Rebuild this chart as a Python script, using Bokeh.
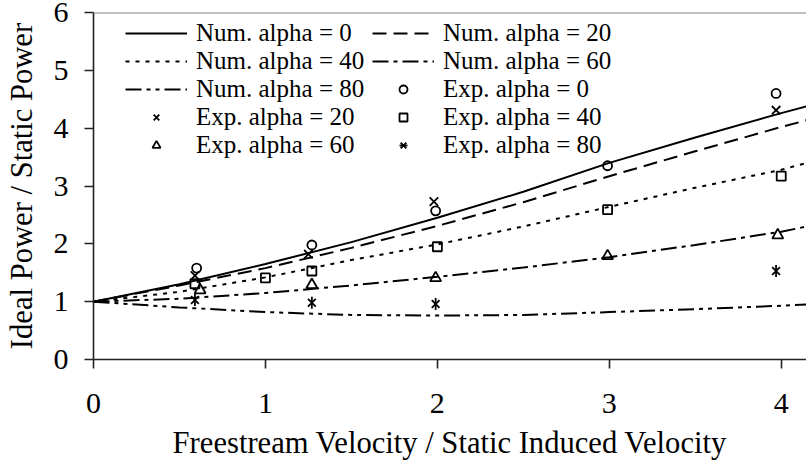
import math
from bokeh.plotting import figure
from bokeh.models import Range1d, Legend, LegendItem, Span, FixedTicker
from bokeh.embed import file_html
from bokeh.resources import INLINE

# ---- data ----
num_x = [0.0, 0.5, 1.0, 1.5, 2.0, 2.5, 3.0, 3.5, 4.0, 4.15]
num_a0 = [1.00, 1.30, 1.65, 2.03, 2.45, 2.90, 3.40, 3.84, 4.26, 4.38]
num_a20 = [1.00, 1.28, 1.58, 1.93, 2.31, 2.72, 3.17, 3.60, 4.02, 4.14]
num_a40 = [1.00, 1.17, 1.42, 1.72, 1.99, 2.30, 2.64, 2.97, 3.28, 3.40]
num_a60 = [1.00, 1.05, 1.15, 1.28, 1.43, 1.59, 1.77, 1.98, 2.21, 2.30]
num_a80 = [1.00, 0.90, 0.82, 0.77, 0.76, 0.77, 0.82, 0.87, 0.93, 0.95]

exp0_x = [0.60, 1.27, 1.99, 2.99, 3.97]
exp0_y = [1.58, 1.98, 2.57, 3.35, 4.60]
exp20_x = [0.59, 1.25, 1.98, 3.97]
exp20_y = [1.45, 1.82, 2.73, 4.31]
exp40_x = [0.59, 1.00, 1.27, 2.00, 2.99, 4.00]
exp40_y = [1.31, 1.41, 1.53, 1.95, 2.59, 3.17]
exp60_x = [0.62, 1.27, 1.99, 2.99, 3.98]
exp60_y = [1.20, 1.29, 1.41, 1.79, 2.15]
exp80_x = [0.59, 1.27, 1.99, 3.97]
exp80_y = [1.03, 0.98, 0.96, 1.53]

x_ticks = [0, 1, 2, 3, 4]
y_ticks = [0, 1, 2, 3, 4, 5, 6]
x_title = "Freestream Velocity / Static Induced Velocity"
y_title = "Ideal Power / Static Power"

FONT = "Liberation Serif"

p = figure(width=806, height=463, output_backend="svg", toolbar_location=None,
           x_range=Range1d(0, 4.147), y_range=Range1d(0, 6),
           min_border_left=93, min_border_right=0, min_border_top=12,
           min_border_bottom=104)
p.outline_line_color = None
p.xgrid.visible = False
p.ygrid.visible = False
p.background_fill_color = "white"
p.border_fill_color = "white"

for ax in (p.xaxis[0], p.yaxis[0]):
    ax.axis_line_color = "#222222"
    ax.axis_line_width = 1.6
    ax.major_tick_line_color = "#222222"
    ax.major_tick_line_width = 1.6
    ax.major_tick_in = 0
    ax.major_tick_out = 9
    ax.minor_tick_line_color = None
    ax.major_label_text_font = FONT
    ax.major_label_text_font_size = "30px"
    ax.major_label_text_color = "black"
    ax.axis_label_text_font = FONT
    ax.axis_label_text_font_size = "30.6px"
    ax.axis_label_text_font_style = "normal"
    ax.axis_label_text_color = "black"

p.xaxis[0].ticker = FixedTicker(ticks=x_ticks)
p.yaxis[0].ticker = FixedTicker(ticks=y_ticks)
p.xaxis[0].axis_label = x_title
p.yaxis[0].axis_label = y_title
p.xaxis[0].major_label_standoff = 25
p.xaxis[0].axis_label_standoff = 10
p.yaxis[0].major_label_standoff = 16
p.yaxis[0].axis_label_standoff = 12

# top border
p.add_layout(Span(location=6, dimension="width", line_color="#808080", line_width=2))

LW = 2
r_n0 = p.line(num_x, num_a0, line_color="black", line_width=LW)
r_n20 = p.line(num_x, num_a20, line_color="black", line_width=LW, line_dash="14 7")
r_n40 = p.line(num_x, num_a40, line_color="black", line_width=LW, line_dash="4 6")
r_n60 = p.line(num_x, num_a60, line_color="black", line_width=LW, line_dash="16 5 4 5")
r_n80 = p.line(num_x, num_a80, line_color="black", line_width=LW, line_dash="16 5 4 5 4 5")

MLW = 1.8
r_e0 = p.scatter(exp0_x, exp0_y, marker="circle", size=9, fill_color=None,
                 line_color="black", line_width=MLW)
r_e20 = p.scatter(exp20_x, exp20_y, marker="x", size=12, line_color="black", line_width=MLW)
r_e40 = p.scatter(exp40_x, exp40_y, marker="square", size=9, fill_color=None,
                  line_color="black", line_width=MLW)
r_e60 = p.scatter(exp60_x, exp60_y, marker="triangle", size=11, fill_color=None,
                  line_color="black", line_width=MLW)
r_e80a = p.scatter(exp80_x, exp80_y, marker="x", size=11, line_color="black", line_width=MLW)
r_e80b = p.scatter(exp80_x, exp80_y, marker="dash", size=12, angle=math.pi / 2,
                   line_color="black", line_width=MLW)

items_rowmajor = [
    ("Num. alpha = 0", [r_n0]), ("Num. alpha = 20", [r_n20]),
    ("Num. alpha = 40", [r_n40]), ("Num. alpha = 60", [r_n60]),
    ("Num. alpha = 80", [r_n80]), ("Exp. alpha = 0", [r_e0]),
    ("Exp. alpha = 20", [r_e20]), ("Exp. alpha = 40", [r_e40]),
    ("Exp. alpha = 60", [r_e60]), ("Exp. alpha = 80", [r_e80a, r_e80b]),
]
# column-major order for a vertical legend with 2 columns
order = [0, 2, 4, 6, 8, 1, 3, 5, 7, 9]
items = [LegendItem(label=items_rowmajor[i][0], renderers=items_rowmajor[i][1]) for i in order]

legend = Legend(items=items, ncols=2, orientation="vertical",
                location=(32, 200), margin=0, padding=0, spacing=0,
                glyph_width=62, glyph_height=20, label_height=20, label_width=176,
                label_standoff=9,
                label_text_font=FONT, label_text_font_size="25px",
                label_text_color="black",
                background_fill_alpha=0, border_line_color=None)
p.add_layout(legend)

open("out.html", "w").write(file_html(p, INLINE))
